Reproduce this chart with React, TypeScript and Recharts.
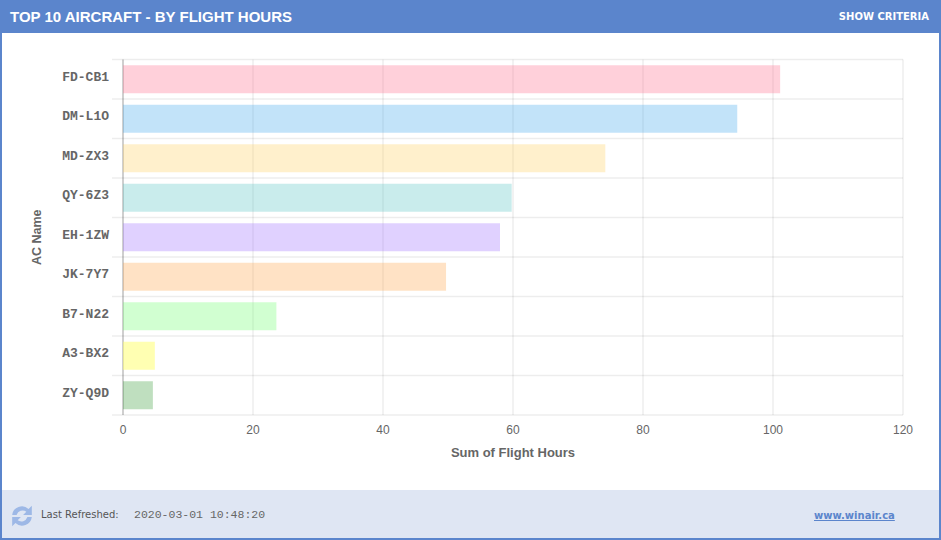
import { BarChart, Bar, Cell, CartesianGrid, XAxis, YAxis } from 'recharts'

const acNames = ['FD-CB1', 'DM-L1O', 'MD-ZX3', 'QY-6Z3', 'EH-1ZW', 'JK-7Y7', 'B7-N22', 'A3-BX2', 'ZY-Q9D']
const flightHours = [101.1, 94.5, 74.2, 59.8, 58, 49.7, 23.6, 4.9, 4.6]
const barColors = [
	'rgba(255,99,132,0.3)',
	'rgba(54,162,235,0.3)',
	'rgba(255,206,86,0.3)',
	'rgba(75,192,192,0.3)',
	'rgba(153,102,255,0.3)',
	'rgba(255,159,64,0.3)',
	'rgba(102,255,102,0.3)',
	'rgba(255,255,102,0.5)',
	'rgba(0,128,0,0.25)',
]
const hourTicks = [0, 20, 40, 60, 80, 100, 120]

const chartData = acNames.map((name, i) => ({ name, hours: flightHours[i] }))

const BLUE = '#5b85cc'
const GRID = 'rgba(0,0,0,0.07)'
const SANS = '"Liberation Sans", Arial, sans-serif'
const MONO = '"Liberation Mono", monospace'

const PLOT_TOP = 59.5

// chart.js style: grid sits on the band edges, not the band centres
const bandEdges = ({ offset }: any) =>
	acNames.concat('').map((_, i) => offset.top + (offset.height * i) / acNames.length)

const GridRow = ({ x1, x2, y1, y2 }: any) => (
	<line x1={x1 - 11} x2={x2} y1={y1} y2={y2} stroke={GRID} strokeWidth={1.5} />
)

const GridCol = ({ x1, x2, y1, y2 }: any) => (
	<line x1={x1} x2={x2} y1={y1} y2={y2} stroke={x1 < 130 ? 'rgba(0,0,0,0.25)' : GRID} strokeWidth={1.5} />
)

const App = () => (
	<div style={{ position: 'absolute', left: 0, top: 0, width: 941, height: 540, boxSizing: 'border-box', border: `2px solid ${BLUE}`, background: '#fff', overflow: 'hidden' }}>
		<div style={{ position: 'absolute', left: -2, top: -2, width: 941, height: 33, background: BLUE, color: '#fff' }}>
			<span style={{ position: 'absolute', left: 10, top: 8, fontFamily: SANS, fontWeight: 700, fontSize: 15 }}>TOP 10 AIRCRAFT - BY FLIGHT HOURS</span>
			<span style={{ position: 'absolute', right: 12, top: 11, fontFamily: '"DejaVu Sans", sans-serif', fontWeight: 700, fontSize: 10 }}>SHOW CRITERIA</span>
		</div>

		<div style={{ position: 'absolute', left: -2, top: -2 }}>
			<BarChart
				width={941}
				height={490}
				layout='vertical'
				data={chartData}
				barCategoryGap='14.5%'
				margin={{ top: PLOT_TOP, right: 38, bottom: 0, left: 0 }}
			>
				<CartesianGrid horizontal={GridRow} vertical={GridCol} horizontalCoordinatesGenerator={bandEdges} />
				<XAxis
					type='number'
					domain={[0, 120]}
					ticks={hourTicks}
					height={75}
					tickLine={false}
					axisLine={false}
					tickMargin={4}
					tick={{ fontFamily: SANS, fontSize: 12, fill: '#666' }}
					label={{ value: 'Sum of Flight Hours', position: 'insideTop', offset: 33, fontFamily: SANS, fontWeight: 700, fontSize: 13, fill: '#666' }}
				/>
				<YAxis
					type='category'
					dataKey='name'
					width={123}
					tickLine={false}
					axisLine={false}
					interval={0}
					tickMargin={14}
					tickSize={0}
					tick={{ fontFamily: MONO, fontWeight: 700, fontSize: 13, fill: '#666', dy: -3 }}
					label={{ value: 'AC Name', angle: -90, position: 'insideLeft', offset: 37, fontFamily: SANS, fontWeight: 700, fontSize: 12.5, fill: '#666', style: { textAnchor: 'middle' } }}
				/>
				<Bar dataKey='hours' isAnimationActive={false}>
					{chartData.map((entry, i) => (
						<Cell key={entry.name} fill={barColors[i]} />
					))}
				</Bar>
			</BarChart>
		</div>

		<div style={{ position: 'absolute', left: 0, top: 488, width: 937, height: 48, background: '#dfe6f3' }}>
			<svg width={24} height={24} viewBox='0 0 22 22' style={{ position: 'absolute', left: 8, top: 14 }}>
				<path d='M2 10 A9 9 0 0 1 17 4.5 L20 1.5 V10 H12 L15 7 A6 6 0 0 0 6 10 Z' fill='#9db8e6' />
				<path d='M20 12 A9 9 0 0 1 5 17.5 L2 20.5 V12 H10 L7 15 A6 6 0 0 0 16 12 Z' fill='#9db8e6' />
			</svg>
			<span style={{ position: 'absolute', left: 39, top: 19, fontFamily: '"DejaVu Sans", sans-serif', fontSize: 10, color: '#555' }}>Last Refreshed:</span>
			<span style={{ position: 'absolute', left: 132, top: 18, fontFamily: MONO, fontSize: 11.5, color: '#666' }}>2020-03-01 10:48:20</span>
			<span style={{ position: 'absolute', left: 812, top: 20, fontFamily: '"DejaVu Sans", sans-serif', fontWeight: 700, fontSize: 10, color: BLUE, textDecoration: 'underline' }}>www.winair.ca</span>
		</div>
	</div>
)

export default App
